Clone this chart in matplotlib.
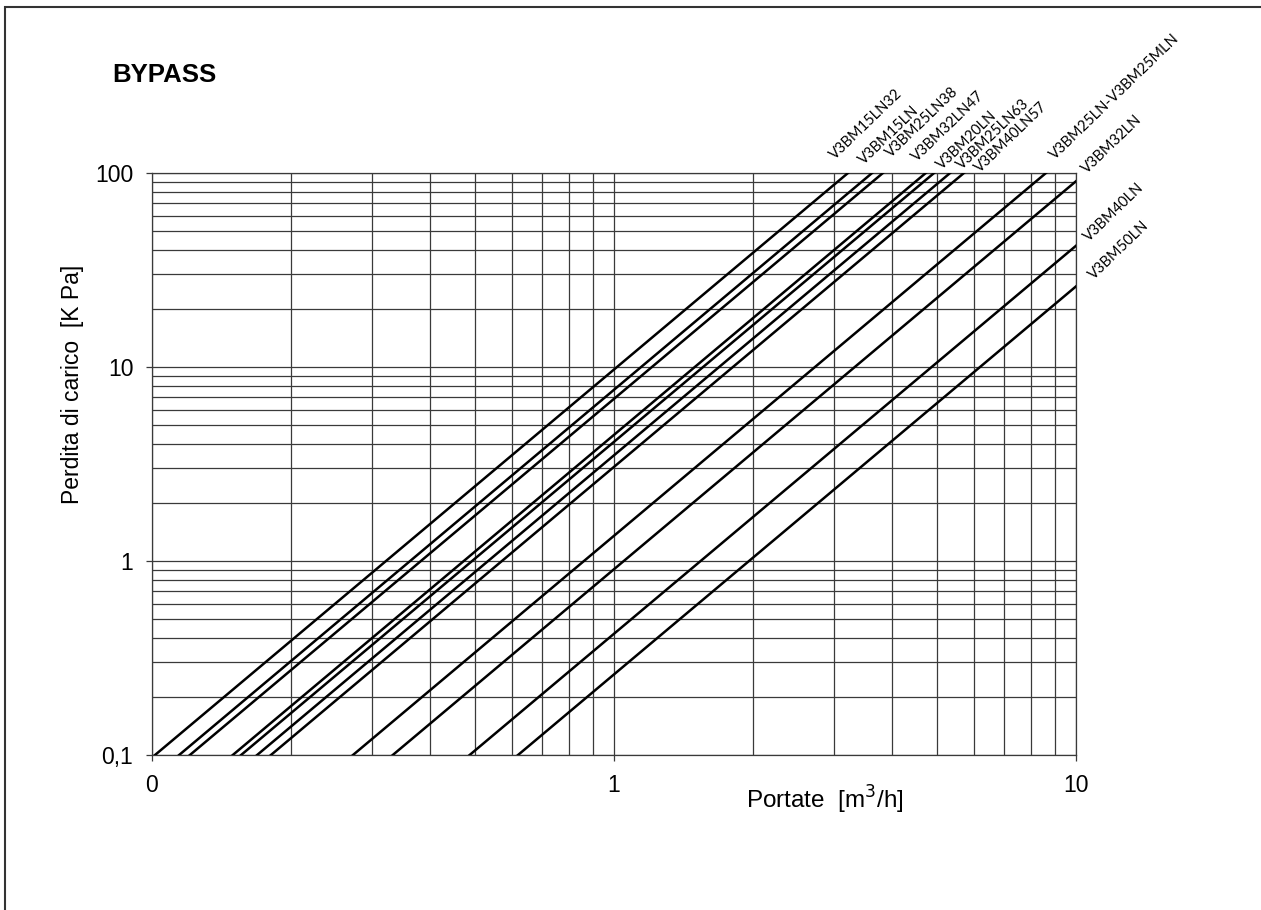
"""
BYPASS pressure drop chart (log-log), flow vs pressure drop per valve.
"""

import matplotlib
matplotlib.use('Agg')  # Non-interactive backend
import matplotlib.pyplot as plt
import matplotlib.patches as patches
from matplotlib.ticker import FixedLocator, FixedFormatter, NullFormatter
import numpy as np

# Valve models and their Kv (flow in m3/h at 100 kPa)
models = ['V3BM15LN32', 'V3BM15LN', 'V3BM25LN38', 'V3BM32LN47', 'V3BM20LN',
          'V3BM25LN63', 'V3BM40LN57', 'V3BM25LN-V3BM25MLN', 'V3BM32LN',
          'V3BM40LN', 'V3BM50LN']
kv_values = [3.21, 3.62, 3.82, 4.73, 4.93, 5.34, 5.72, 8.61, 10.5, 15.4, 19.6]

x_ticks = [0.1, 1, 10]
x_tick_labels = ['0', '1', '10']
y_ticks = [0.1, 1, 10, 100]
y_tick_labels = ['0,1', '1', '10', '100']

# label anchor points (figure pixels, from top-left)
label_pos = [(835, 160), (864, 165), (891, 158), (917, 162), (942, 170),
             (962, 170), (980, 173), (1055, 160), (1087, 174), (1089, 242),
             (1094, 280)]

W, H = 1261, 910
line_color = '#000000'
grid_color = '#3a3a3a'

fig = plt.figure(figsize=(W / 100, H / 100), dpi=100, facecolor='white')
ax = fig.add_axes([152 / W, 1 - 755 / H, (1076 - 152) / W, (755 - 173) / H])

ax.set_xscale('log')
ax.set_yscale('log')
ax.set_xlim(0.1, 10)
ax.set_ylim(0.1, 100)

# pressure drop curves: dp[kPa] = 100 * (Q / Kv)^2
q = np.array([0.01, 20.0])
for kv in kv_values:
    ax.plot(q, 100 * (q / kv) ** 2, color=line_color, linewidth=1.8,
            solid_capstyle='butt', zorder=3)

ax.grid(True, which='both', color=grid_color, linewidth=0.9)
ax.set_axisbelow(True)

ax.xaxis.set_major_locator(FixedLocator(x_ticks))
ax.xaxis.set_major_formatter(FixedFormatter(x_tick_labels))
ax.yaxis.set_major_locator(FixedLocator(y_ticks))
ax.yaxis.set_major_formatter(FixedFormatter(y_tick_labels))
ax.xaxis.set_minor_formatter(NullFormatter())
ax.yaxis.set_minor_formatter(NullFormatter())

ax.tick_params(which='major', direction='out', length=4.5, width=0.9,
               color=grid_color, pad=9, labelsize=16.5)
ax.tick_params(which='minor', length=0)
for label in ax.get_xticklabels() + ax.get_yticklabels():
    label.set_fontfamily('Liberation Sans')

for spine in ax.spines.values():
    spine.set_color(grid_color)
    spine.set_linewidth(0.9)

# Curve labels
for name, (px, py) in zip(models, label_pos):
    fig.text(px / W, 1 - py / H, name, rotation=44, rotation_mode='anchor',
             ha='left', va='baseline', fontsize=10.5, family='Lato',
             color='black')

# Titles and axis labels
fig.text(112 / W, 1 - 82 / H, 'BYPASS', fontsize=18.5, fontweight='bold',
         family='Liberation Sans', ha='left', va='baseline')
fig.text(72 / W, 1 - 384 / H, 'Perdita di carico  [K Pa]', rotation=90,
         fontsize=16.5, family='Liberation Sans', ha='center', va='center')
fig.text(825 / W, 1 - 800 / H, 'Portate  [m$^{3}$/h]', fontsize=17.5,
         family='Liberation Sans', ha='center', va='center')

# Page frame (open at right and bottom)
frame = patches.Rectangle((5 / W, -0.1), 1.2, 1.1 - 7 / H,
                          transform=fig.transFigure, fill=False,
                          edgecolor='#333333', linewidth=1.5)
fig.patches.append(frame)

fig.savefig('out.png', dpi=100, facecolor='white')
plt.close(fig)
